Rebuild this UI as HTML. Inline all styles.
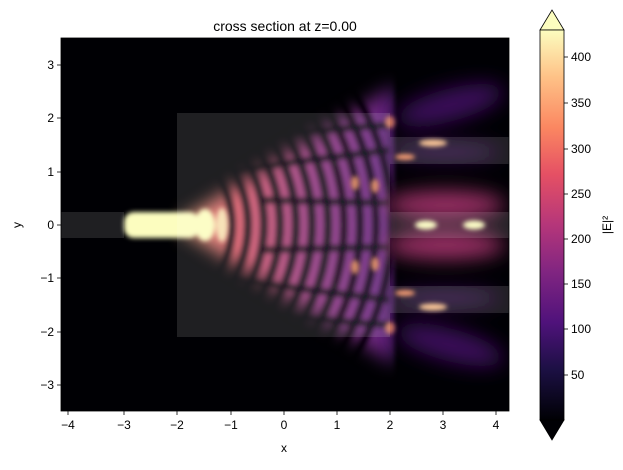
<!DOCTYPE html><html><head><style>body{margin:0;background:#fff}svg{font-family:"Liberation Sans",sans-serif}</style></head><body>
<svg width="623" height="465" viewBox="0 0 623 465" xmlns="http://www.w3.org/2000/svg">
<defs>
<filter id="b4"><feGaussianBlur stdDeviation="4"/></filter>
<filter id="b2"><feGaussianBlur stdDeviation="2.5"/></filter>
<filter id="b8"><feGaussianBlur stdDeviation="10"/></filter>
<filter id="b6" x="-20%" y="-20%" width="140%" height="140%"><feGaussianBlur stdDeviation="9"/></filter>
<linearGradient id="fan" x1="0" x2="1" y1="0" y2="0"><stop offset="0" stop-color="#fcb07a"/><stop offset="0.3" stop-color="#d85868"/><stop offset="0.65" stop-color="#903480"/><stop offset="1" stop-color="#602080"/></linearGradient>
<linearGradient id="cb" x1="0" y1="1" x2="0" y2="0"><stop offset="0" stop-color="#000004"/><stop offset="0.13" stop-color="#1c1044"/><stop offset="0.25" stop-color="#4f127b"/><stop offset="0.38" stop-color="#812581"/><stop offset="0.5" stop-color="#b5367a"/><stop offset="0.63" stop-color="#e55064"/><stop offset="0.75" stop-color="#fb8761"/><stop offset="0.88" stop-color="#fec287"/><stop offset="1" stop-color="#fcfdbf"/></linearGradient>
<clipPath id="ax"><rect x="61" y="38" width="448" height="373"/></clipPath>
<mask id="fm" maskUnits="userSpaceOnUse" x="0" y="0" width="623" height="465"><path d="M175,225 L395,85 L395,365 Z" fill="#fff" filter="url(#b6)"/></mask>
</defs>
<rect x="61" y="38" width="448" height="373" fill="#000004"/>
<g clip-path="url(#ax)">
<g mask="url(#fm)">
<g filter="url(#b2)">
<rect x="170" y="70" width="225" height="310" fill="url(#fan)"/>
<g fill="none" stroke="#000004" stroke-width="9" opacity="0.85">
<circle cx="140" cy="225" r="92"/><circle cx="140" cy="225" r="108"/><circle cx="140" cy="225" r="124"/><circle cx="140" cy="225" r="140"/><circle cx="140" cy="225" r="156"/><circle cx="140" cy="225" r="172"/><circle cx="140" cy="225" r="188"/><circle cx="140" cy="225" r="204"/><circle cx="140" cy="225" r="220"/><circle cx="140" cy="225" r="236"/><circle cx="140" cy="225" r="252"/>
</g>
<g fill="none" stroke="#000004" stroke-width="8" opacity="0.7">
<line x1="230" y1="170" x2="390" y2="150"/><line x1="230" y1="280" x2="390" y2="300"/><line x1="260" y1="200" x2="390" y2="203"/><line x1="260" y1="250" x2="390" y2="247"/><line x1="250" y1="135" x2="390" y2="125"/><line x1="250" y1="315" x2="390" y2="325"/>
</g>
</g>
</g>
<g fill="#f3925e" filter="url(#b2)" opacity="0.85">
<ellipse cx="355" cy="183" rx="4" ry="7"/><ellipse cx="375" cy="186" rx="4" ry="7"/><ellipse cx="355" cy="267" rx="4" ry="7"/><ellipse cx="375" cy="264" rx="4" ry="7"/><ellipse cx="390" cy="122" rx="5" ry="6"/><ellipse cx="390" cy="328" rx="5" ry="6"/>
</g>
<g fill="#fcfdbf" filter="url(#b2)">
<rect x="124" y="212" width="75" height="26" rx="10"/>
<ellipse cx="205" cy="225" rx="10" ry="16"/><ellipse cx="222" cy="225" rx="6" ry="17" opacity="0.8"/>
</g>
<g filter="url(#b8)">
<ellipse cx="445" cy="205" rx="60" ry="14" fill="#b83a78" opacity="0.85"/>
<ellipse cx="445" cy="245" rx="60" ry="14" fill="#b83a78" opacity="0.85"/>
<ellipse cx="445" cy="152" rx="55" ry="6" fill="#5a1a80" opacity="0.8"/>
<ellipse cx="445" cy="298" rx="55" ry="6" fill="#5a1a80" opacity="0.8"/>
<ellipse cx="450" cy="105" rx="55" ry="16" fill="#4a1470" opacity="0.8" transform="rotate(-15 450 105)"/>
<ellipse cx="450" cy="345" rx="55" ry="16" fill="#4a1470" opacity="0.8" transform="rotate(15 450 345)"/>
</g>
<g fill="#fcfdbf" filter="url(#b2)">
<ellipse cx="426" cy="225" rx="11" ry="4.5"/><ellipse cx="474" cy="225" rx="11" ry="4.5"/>
<ellipse cx="433" cy="143" rx="14" ry="3.5" fill="#fcc08a"/><ellipse cx="433" cy="307" rx="14" ry="3.5" fill="#fcc08a"/>
<ellipse cx="405" cy="157" rx="10" ry="3" fill="#f59060"/><ellipse cx="405" cy="293" rx="10" ry="3" fill="#f59060"/>
</g>
<g fill="#fff" opacity="0.12">
<rect x="61" y="212" width="63" height="26"/>
<rect x="177" y="113" width="213" height="224"/>
<rect x="390" y="137" width="119" height="27"/>
<rect x="390" y="212" width="119" height="26"/>
<rect x="390" y="286" width="119" height="27"/>
</g>
</g>
<rect x="61" y="38" width="448" height="373" fill="none" stroke="#000" stroke-width="0.8"/>
<text x="285" y="31" font-size="14" text-anchor="middle">cross section at z=0.00</text>
<g font-size="12" text-anchor="middle">
<g stroke="#000" stroke-width="0.8"><line x1="68" y1="411" x2="68" y2="415"/><line x1="124" y1="411" x2="124" y2="415"/><line x1="177" y1="411" x2="177" y2="415"/><line x1="231" y1="411" x2="231" y2="415"/><line x1="284" y1="411" x2="284" y2="415"/><line x1="337" y1="411" x2="337" y2="415"/><line x1="390" y1="411" x2="390" y2="415"/><line x1="443" y1="411" x2="443" y2="415"/><line x1="496" y1="411" x2="496" y2="415"/></g>
<text x="68" y="429">−4</text><text x="124" y="429">−3</text><text x="177" y="429">−2</text><text x="231" y="429">−1</text><text x="284" y="429">0</text><text x="337" y="429">1</text><text x="390" y="429">2</text><text x="443" y="429">3</text><text x="496" y="429">4</text>
<text x="284" y="452">x</text>
</g>
<g font-size="12" text-anchor="end">
<g stroke="#000" stroke-width="0.8"><line x1="57" y1="65" x2="61" y2="65"/><line x1="57" y1="118" x2="61" y2="118"/><line x1="57" y1="172" x2="61" y2="172"/><line x1="57" y1="225" x2="61" y2="225"/><line x1="57" y1="278" x2="61" y2="278"/><line x1="57" y1="332" x2="61" y2="332"/><line x1="57" y1="385" x2="61" y2="385"/></g>
<text x="54" y="69">3</text><text x="54" y="122">2</text><text x="54" y="176">1</text><text x="54" y="229">0</text><text x="54" y="282">−1</text><text x="54" y="336">−2</text><text x="54" y="389">−3</text>
</g>
<text x="21" y="225" font-size="12" text-anchor="middle" transform="rotate(-90 21 225)">y</text>
<path d="M540,30 L552,10 L564,30 Z" fill="#fcfdbf" stroke="#000" stroke-width="0.8"/>
<path d="M540,420 L552,440 L564,420 Z" fill="#000004" stroke="#000" stroke-width="0.8"/>
<rect x="540" y="30" width="24" height="390" fill="url(#cb)" stroke="#000" stroke-width="0.8"/>
<g font-size="12"><g stroke="#000" stroke-width="0.8"><line x1="564" y1="57" x2="568" y2="57"/><line x1="564" y1="103" x2="568" y2="103"/><line x1="564" y1="149" x2="568" y2="149"/><line x1="564" y1="194" x2="568" y2="194"/><line x1="564" y1="239" x2="568" y2="239"/><line x1="564" y1="284" x2="568" y2="284"/><line x1="564" y1="329" x2="568" y2="329"/><line x1="564" y1="375" x2="568" y2="375"/></g>
<text x="571" y="61">400</text><text x="571" y="107">350</text><text x="571" y="153">300</text><text x="571" y="198">250</text><text x="571" y="243">200</text><text x="571" y="288">150</text><text x="571" y="333">100</text><text x="571" y="379">50</text></g>
<text x="611" y="225" font-size="12" text-anchor="middle" transform="rotate(-90 611 225)">|E|²</text>
</svg></body></html>
